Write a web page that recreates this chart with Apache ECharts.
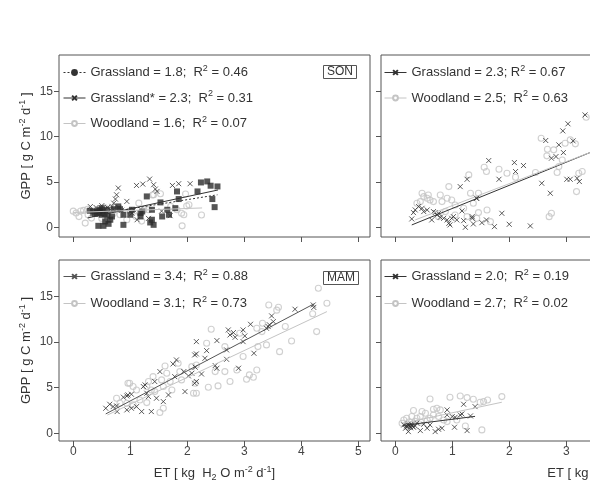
<!DOCTYPE html>
<html>
<head>
<meta charset="utf-8">
<script src="https://cdn.jsdelivr.net/npm/echarts@6/dist/echarts.min.js"></script>
<style>
  html, body { margin: 0; padding: 0; background: #fff; }
  #chart { width: 590px; height: 503px; }
</style>
</head>
<body>
<div id="chart"></div>
<script>
// tick labels
const xTicks = [0, 1, 2, 3, 4, 5];
const yTicks = [0, 5, 10, 15];

// legend entries per panel
const sonLegend = ['Grassland = 1.8;  R2 = 0.46', 'Grassland* = 2.3;  R2 = 0.31', 'Woodland = 1.6;  R2 = 0.07'];
const trLegend = ['Grassland = 2.3; R2 = 0.67', 'Woodland = 2.5;  R2 = 0.63'];
const mamLegend = ['Grassland = 3.4;  R2 = 0.88', 'Woodland = 3.1;  R2 = 0.73'];
const brLegend = ['Grassland = 2.0;  R2 = 0.19', 'Woodland = 2.7;  R2 = 0.02'];

// SON panel (top left)
const sonGrassSq = [[0.44,0.18],[0.53,0.18],[0.56,0.66],[0.65,0.85],[0.68,1.21],[0.5,1.4],[0.41,1.76],[0.47,1.95],
  [0.5,2.13],[0.35,1.76],[0.29,1.84],[0.59,1.95],[0.71,2.02],[0.79,2.32],[0.82,2.02],[0.88,1.4],[0.88,0.29],[1.0,1.4],
  [1.03,1.95],[1.18,1.58],[1.21,1.76],[1.29,3.42],[1.38,1.95],[1.35,0.55],[1.41,0.29],[1.38,0.85],[1.53,2.76],[1.56,1.21],
  [1.65,1.95],[1.68,1.4],[1.79,2.13],[1.82,3.97],[1.85,3.13],[2.18,3.97],[2.24,4.96],[2.35,5.07],[2.41,4.6],[2.53,4.52],
  [2.44,3.13],[2.48,2.24],[1.18,1.21],[0.45,1.8],[0.48,1.6],[0.52,1.75],[0.42,1.55],[0.55,1.5],[0.6,1.3],[0.38,1.5],[0.62,0.4]];
const sonGrassX = [[0.71,2.68],[0.74,3.13],[0.76,3.6],[0.79,4.34],[0.68,2.32],[0.65,1.95],[1.11,4.63],[1.22,4.78],
  [1.34,5.33],[1.41,4.71],[1.44,4.23],[1.47,3.97],[1.74,4.63],[1.85,4.82],[2.05,4.82],[0.94,2.87],[1.03,1.58],[1.06,1.95],
  [1.12,0.85],[0.3,2.3],[0.4,2.2],[0.5,2.4],[0.6,2.2],[0.7,2.0],[0.55,2.0],[0.8,2.2],[0.85,1.9],[1.32,1.0],[1.55,1.8],[1.7,1.3]];
const sonWood = [[0.18,1.88],[0.21,0.48],[0.26,1.4],[0.32,1.03],[0.35,1.58],[0.82,1.4],[0.94,0.85],[1.15,2.68],[1.24,1.95],
  [1.32,1.95],[1.41,3.6],[1.53,3.71],[1.71,2.32],[1.82,1.95],[1.91,0.18],[1.94,1.4],[1.97,3.68],[2.03,2.5],[1.39,3.58],
  [1.9,1.57],[2.25,1.38],[1.99,2.37],[0.13,1.82],[0.0,1.8],[0.05,1.6],[0.1,1.2],[0.25,2.0],[0.4,1.9],[0.5,1.0],[0.6,0.9],
  [0.7,1.5],[1.0,1.8],[1.1,1.2],[1.2,0.7],[0.55,2.2]];
const sonGrassLine = [[0.3,1.35],[2.53,3.6]];
const sonGrassStarLine = [[0.25,1.05],[2.54,4.13]];
const sonWoodLine = [[0.0,1.65],[2.26,2.15]];

// top right panel
const trGrassX = [[0.29,0.94],[0.32,1.64],[0.35,1.93],[0.41,2.3],[0.47,2.11],[0.5,1.75],[0.56,1.93],[0.64,0.83],[0.67,1.75],
  [0.7,1.64],[0.73,1.38],[0.76,1.56],[0.79,1.12],[0.85,1.01],[0.91,0.83],[0.94,0.46],[0.96,0.28],[0.99,1.01],[1.02,1.19],
  [1.08,0.83],[1.17,1.82],[1.14,4.5],[1.26,5.31],[1.2,0.75],[1.23,0.02],[1.35,1.01],[1.43,3.22],[1.35,1.19],[1.37,0.39],
  [1.52,0.53],[1.6,0.83],[1.74,0.09],[1.87,1.56],[2.0,0.35],[2.37,0.17],[1.64,7.37],[1.82,5.31],[2.09,7.15],[2.11,6.16],
  [2.25,6.82],[2.57,4.87],[2.64,9.58],[2.72,3.77],[2.74,7.63],[2.82,7.81],[2.87,9.1],[2.95,8.25],[2.94,10.64],[3.03,11.42],
  [3.12,9.54],[3.01,5.31],[3.07,5.31],[3.19,5.42],[3.23,5.06],[3.33,12.4],[1.42,3.22]];
const trWood = [[0.47,3.77],[0.5,3.4],[0.56,3.22],[0.61,3.03],[0.58,3.58],[0.44,2.85],[0.38,2.67],[0.67,2.85],[0.79,3.58],
  [0.82,2.85],[0.91,3.22],[0.94,4.5],[0.99,3.03],[1.05,2.48],[1.2,2.11],[1.29,5.79],[1.32,3.77],[1.37,2.67],[1.46,3.77],
  [0.76,1.19],[0.88,1.75],[1.05,1.38],[1.26,1.19],[1.56,6.64],[1.6,6.16],[1.82,6.42],[1.96,5.97],[2.11,5.53],[2.46,6.05],
  [2.56,9.83],[2.67,8.62],[2.66,7.89],[2.78,8.55],[2.84,6.05],[2.87,6.71],[2.93,7.44],[2.98,9.28],[3.07,9.65],[3.16,9.21],
  [3.18,3.95],[3.22,5.97],[3.28,6.16],[3.35,12.15],[2.7,1.19],[2.74,1.56],[1.46,1.64],[1.61,1.93],[1.43,1.01],[1.67,0.64]];
const trGrassLine = [[0.29,0.28],[3.6,8.72]];
const trWoodLine = [[0.35,0.83],[3.6,8.7]];

// MAM panel (bottom left)
const mamGrassX = [[0.57,2.74],[0.64,3.18],[0.7,2.92],[0.77,2.38],[0.76,3.0],[0.88,3.95],[0.94,4.09],[0.96,4.2],[1.02,4.28],
  [0.94,2.56],[1.02,2.74],[1.11,2.92],[1.2,2.38],[1.23,5.12],[1.26,5.3],[1.29,4.39],[1.32,4.02],[1.37,2.38],[1.43,5.67],
  [1.52,6.76],[1.46,3.84],[1.58,3.47],[1.67,4.2],[1.75,7.6],[1.81,8.04],[1.78,6.21],[1.94,6.76],[1.96,4.57],[2.02,6.29],
  [2.08,6.58],[2.13,5.48],[2.13,8.59],[2.16,10.05],[2.16,8.7],[2.34,9.06],[2.52,10.16],[2.14,7.24],[2.31,8.22],[2.49,7.42],
  [2.52,7.13],[2.69,8.11],[2.72,11.33],[2.75,10.78],[2.81,11.04],[2.84,10.53],[2.9,7.13],[2.98,11.33],[3.01,10.67],
  [2.98,10.05],[3.11,11.95],[3.17,8.77],[3.39,11.51],[3.42,11.7],[3.48,12.87],[3.51,12.24],[3.44,11.9],[3.89,13.6],
  [4.21,14.07],[4.22,13.8],[2.69,9.14],[2.16,5.67],[2.25,6.5]];
const mamWood = [[0.96,5.48],[0.99,5.48],[1.05,5.12],[1.11,4.75],[1.17,3.65],[1.32,5.67],[1.4,6.21],[1.55,5.85],[1.58,5.12],
  [1.61,7.38],[1.64,6.58],[1.7,5.67],[1.73,4.75],[1.84,7.68],[1.87,6.76],[1.9,5.85],[0.76,3.84],[0.82,3.29],[1.05,3.11],
  [1.29,3.36],[1.43,4.57],[1.52,2.27],[1.58,2.74],[2.08,7.31],[2.11,4.39],[2.16,7.49],[1.29,5.12],[1.37,4.75],[0.94,3.29],
  [4.3,15.9],[4.45,14.25],[4.27,11.15],[3.83,10.12],[3.62,8.95],[3.43,14.07],[3.6,13.82],[3.57,13.5],[3.32,12.06],
  [3.31,11.15],[3.72,11.7],[3.39,9.69],[3.24,9.5],[3.22,11.51],[2.92,10.96],[2.66,9.5],[2.42,11.4],[2.98,8.41],[3.22,6.94],
  [3.09,6.4],[3.16,6.14],[3.04,5.92],[2.75,5.67],[2.66,6.76],[2.54,5.19],[2.37,5.04],[2.16,4.39],[2.14,5.48],[2.49,6.76],
  [2.87,6.94],[2.34,9.87],[4.2,13.1]];
const mamGrassLine = [[0.57,2.12],[4.22,14.18]];
const mamWoodLine = [[0.6,2.0],[4.45,13.34]];

// bottom right panel
const brGrassX = [[0.18,0.55],[0.2,0.8],[0.23,1.02],[0.26,0.73],[0.29,0.91],[0.32,0.66],[0.35,0.8],[0.15,0.91],[0.38,1.1],
  [0.23,0.18],[0.44,0.29],[0.56,0.55],[0.61,0.91],[0.7,0.18],[0.76,0.44],[0.82,0.55],[0.91,2.56],[0.91,2.0],[1.0,1.83],
  [1.05,1.75],[1.14,2.0],[1.17,2.12],[1.2,3.18],[1.32,1.9],[1.4,2.92],[1.04,0.66],[1.26,0.29],[0.5,0.99],
  [0.21,0.7],[0.24,0.85],[0.27,0.6],[0.3,0.78],[0.22,0.95],[0.28,1.0]];
const brWood = [[0.61,3.76],[0.96,3.95],[1.14,4.09],[1.26,3.91],[1.37,3.73],[1.49,3.4],[1.55,3.47],[1.62,3.65],[1.87,4.02],
  [1.52,0.37],[1.23,0.8],[0.32,2.49],[0.47,2.38],[0.67,2.63],[0.73,2.74],[0.79,2.56],[0.29,1.83],[0.38,1.64],[0.44,1.83],
  [0.53,2.19],[0.61,1.64],[0.67,2.0],[0.76,1.83],[0.15,1.46],[0.12,1.1],[0.2,1.64],[0.56,1.46],[0.85,1.46],[0.91,1.28],
  [1.08,1.46],[0.35,1.3],[0.45,1.2],[0.25,1.25]];
const brGrassLine = [[0.13,0.85],[1.4,1.85]];
const brWoodLine = [[0.14,1.1],[1.87,3.4]];

const FONT = '"Liberation Sans", Arial, sans-serif';
const DARK = '#333';
const LIGHT = '#c4c4c4';
const BOX = '#555';
const CROSS = 'path://M0,0L10,10M10,0L0,10';
const DOTS = [2, 2];

const supRich = {
  sup: { fontSize: 9, fontFamily: FONT, color: '#333', padding: [0, 0, 8, 0] },
  sub: { fontSize: 9, fontFamily: FONT, color: '#333', padding: [8, 0, 0, 0] }
};

const panels = [
  { left: 59, top: 55, width: 311, height: 182, xmax: 5.206, ymin: -1.05, labels: false, yLabels: true },
  { left: 381, top: 55, width: 454, height: 182, xmax: 7.715, ymin: -1.05, labels: false, yLabels: false },
  { left: 59, top: 260, width: 311, height: 181, xmax: 5.206, ymin: -0.85, labels: true, yLabels: true },
  { left: 381, top: 260, width: 454, height: 181, xmax: 7.715, ymin: -0.85, labels: true, yLabels: false }
];

const grid = panels.map(p => ({
  left: p.left, top: p.top, width: p.width, height: p.height,
  outerBoundsMode: 'none', containLabel: false,
  show: true, borderColor: BOX, borderWidth: 1, backgroundColor: 'transparent'
}));

const xNameText = 'ET [ kg  H{sub|2} O m{sup|-2} d{sup|-1}]';
const yNameText = 'GPP [ g C m{sup|-2} d{sup|-1} ]';

const xAxis = panels.map((p, i) => ({
  type: 'value', gridIndex: i, min: -0.25, max: p.xmax,
  axisLine: { show: false, onZero: false },
  axisTick: { show: true, inside: false, length: 5, lineStyle: { color: BOX }, customValues: xTicks },
  axisLabel: { show: p.labels, margin: 5, color: '#444', fontSize: 12, fontFamily: FONT, customValues: xTicks },
  splitLine: { show: false },
  name: p.labels ? xNameText : '',
  nameLocation: 'middle', nameGap: 24, nameMoveOverlap: false,
  nameTextStyle: { fontSize: 13, fontFamily: FONT, color: '#333', rich: supRich }
}));

const yAxis = panels.map((p, i) => ({
  type: 'value', gridIndex: i, min: p.ymin, max: 19,
  axisLine: { show: false, onZero: false },
  axisTick: { show: true, inside: false, length: 5, lineStyle: { color: BOX }, customValues: yTicks },
  axisLabel: { show: p.yLabels, margin: 6, color: '#444', fontSize: 12, fontFamily: FONT, customValues: yTicks },
  splitLine: { show: false },
  name: p.yLabels ? yNameText : '',
  nameLocation: 'middle', nameGap: 24, nameRotate: 90, nameMoveOverlap: false,
  nameTextStyle: { fontSize: 13, fontFamily: FONT, color: '#333', rich: supRich }
}));

function scatterX(name, data, i) {
  return { name: name, type: 'scatter', xAxisIndex: i, yAxisIndex: i, data: data, symbol: CROSS, symbolSize: 5,
    itemStyle: { color: DARK, borderColor: DARK, borderWidth: 1 }, silent: true, z: 3 };
}
function scatterWood(name, data, i) {
  return { name: name, type: 'scatter', xAxisIndex: i, yAxisIndex: i, data: data, symbol: 'circle', symbolSize: 6,
    itemStyle: { color: 'rgba(0,0,0,0)', borderColor: LIGHT, borderWidth: 1.1 }, silent: true, z: 2 };
}
function regLine(name, data, i, color, type, symbol, symSize) {
  return { name: name, type: 'line', xAxisIndex: i, yAxisIndex: i, data: data, showSymbol: false,
    symbol: symbol, symbolSize: symSize,
    lineStyle: { color: color, width: 1, type: type },
    itemStyle: { color: color === LIGHT ? '#fff' : color, borderColor: color, borderWidth: 1 },
    silent: true, z: 5, animation: false };
}

const series = [
  scatterWood('son-wood', sonWood, 0),
  { name: 'son-sq', type: 'scatter', xAxisIndex: 0, yAxisIndex: 0, data: sonGrassSq, symbol: 'rect', symbolSize: 6,
    itemStyle: { color: '#2a2a2a' }, silent: true, z: 3 },
  scatterX('son-x', sonGrassX, 0),
  regLine(sonLegend[0], sonGrassLine, 0, DARK, DOTS, 'circle', 4),
  regLine(sonLegend[1], sonGrassStarLine, 0, DARK, 'solid', CROSS, 5),
  regLine(sonLegend[2], sonWoodLine, 0, LIGHT, 'solid', 'circle', 6),

  scatterWood('tr-wood', trWood, 1),
  scatterX('tr-x', trGrassX, 1),
  regLine(trLegend[0], trGrassLine, 1, DARK, 'solid', CROSS, 5),
  regLine(trLegend[1], trWoodLine, 1, LIGHT, 'solid', 'circle', 6),

  scatterWood('mam-wood', mamWood, 2),
  scatterX('mam-x', mamGrassX, 2),
  regLine(mamLegend[0], mamGrassLine, 2, '#555', 'solid', CROSS, 5),
  regLine(mamLegend[1], mamWoodLine, 2, LIGHT, 'solid', 'circle', 6),

  scatterWood('br-wood', brWood, 3),
  scatterX('br-x', brGrassX, 3),
  regLine(brLegend[0], brGrassLine, 3, DARK, 'solid', CROSS, 5),
  regLine(brLegend[1], brWoodLine, 3, LIGHT, 'solid', 'circle', 6)
];

function makeLegend(names, left, top, gap) {
  return {
    data: names.map(n => n === sonLegend[0]
      ? { name: n, lineStyle: { width: 1, type: DOTS } }
      : { name: n, lineStyle: { width: 1 } }),
    left: left, top: top, orient: 'vertical', padding: 0, itemGap: gap,
    itemWidth: 22, itemHeight: 6, selectedMode: false,
    formatter: n => n.replace('R2', 'R{sup|2}'),
    textStyle: { fontSize: 13, fontFamily: FONT, color: '#333', lineHeight: 16, rich: supRich }
  };
}

const legend = [
  makeLegend(sonLegend, 63, 64, 9),
  makeLegend(trLegend, 384, 64, 9),
  makeLegend(mamLegend, 63, 268, 10.5),
  makeLegend(brLegend, 384, 268, 10.5)
];

function seasonTag(text, top) {
  return { text: text, left: 323, top: top, padding: [1, 4], borderColor: BOX, borderWidth: 1,
    textStyle: { fontSize: 12, fontWeight: 'normal', fontFamily: FONT, color: '#333', lineHeight: 12 } };
}

const chart = echarts.init(document.getElementById('chart'), null, { renderer: 'canvas' });
chart.setOption({
  backgroundColor: '#fff',
  animation: false,
  title: [seasonTag('SON', 65), seasonTag('MAM', 271)],
  grid: grid,
  xAxis: xAxis,
  yAxis: yAxis,
  legend: legend,
  series: series
});
</script>
</body>
</html>
